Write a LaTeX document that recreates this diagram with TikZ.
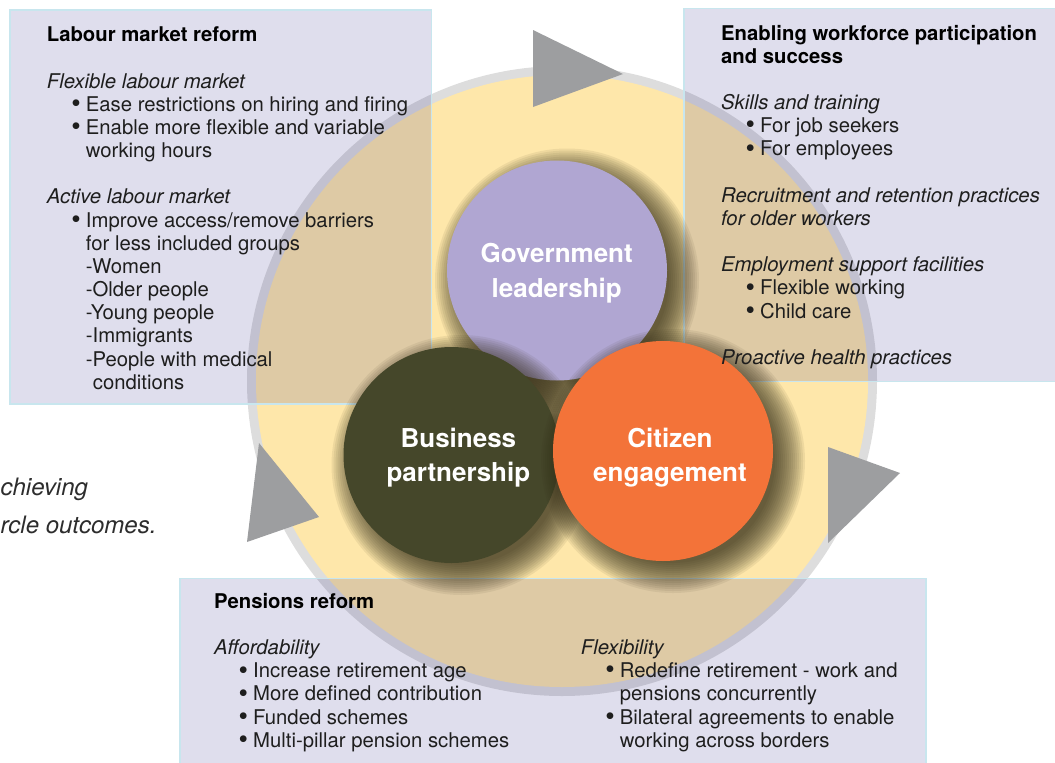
\documentclass[tikz,border=0pt]{standalone}
\usepackage{fontspec}
\setmainfont{TeX Gyre Heros}
\definecolor{ringgray}{RGB}{221,221,221}
\definecolor{sunfill}{RGB}{254,231,170}
\definecolor{pointergray}{RGB}{157,158,160}
\definecolor{panelink}{RGB}{65,60,146}
\definecolor{panelrule}{RGB}{200,230,238}
\definecolor{govcol}{RGB}{176,166,210}
\definecolor{bizcol}{RGB}{69,71,42}
\definecolor{citcol}{RGB}{243,115,57}
\definecolor{shadowcol}{RGB}{48,42,22}
\definecolor{bodytext}{RGB}{30,30,30}
\definecolor{asidetext}{RGB}{45,45,45}

% bulleted line and continuation line inside a panel
\newcommand{\bdot}{\smash{\raisebox{-1.2pt}{\fontsize{27}{0}\selectfont\textbullet}}}
\newcommand{\bitem}[1]{\hspace*{24.5pt}\makebox[14.5pt][l]{\bdot}#1}
\newcommand{\bcont}[1]{\hspace*{39pt}#1}
% soft drop shadow under a hub: centre x, centre y, radius
\newcommand{\hubshadow}[3]{%
  \foreach \k in {0,...,15}{%
    \pgfmathsetmacro{\rr}{#3+22-2*\k}%
    \fill[shadowcol, fill opacity=0.075] (#1+10,#2+10) circle (\rr pt);
  }}

\begin{document}
\begin{tikzpicture}[x=1pt,y=-1pt,
  panel/.style={fill=panelink, fill opacity=0.17, draw=panelrule, draw opacity=1, line width=1.2pt},
  pointer/.style={fill=pointergray},
  hub/.style={circle, inner sep=0pt, minimum size=#1},
  hublabel/.style={anchor=base, inner sep=0pt, text=white,
    font=\fontsize{26}{34.3}\selectfont\bfseries},
  paneltext/.style={anchor=base west, inner sep=0pt, text=bodytext,
    font=\fontsize{20.3}{23.17}\selectfont},
  aside/.style={anchor=base west, inner sep=0pt, text=asidetext,
    font=\fontsize{24}{30}\selectfont\itshape}
]
\useasboundingbox (0,0) rectangle (1055,763);

% cycle ring
\fill[ringgray] (562,381) circle (315pt);
\fill[sunfill] (562,381) circle (306pt);

% direction markers on the ring
\fill[pointer] (533,30) -- (623,74) -- (533,107) -- cycle;
\fill[pointer] (828,447) -- (900,473) -- (828,543) -- cycle;
\fill[pointer] (259,443) -- (319,517) -- (247,542) -- cycle;

% translucent panels
\path[panel] (10,10) rectangle (431.5,404);
\path[panel] (684,8.3) rectangle (1062,381.5);
\path[panel] (180,578.3) rectangle (926,770);

% hubs with their shadows
\hubshadow{557}{270.5}{110}
\node[hub=220pt, fill=govcol] (gov) at (557,270.5) {};
\hubshadow{451.5}{455}{108}
\node[hub=216pt, fill=bizcol] (biz) at (451.5,455) {};
\hubshadow{663}{451}{110}
\node[hub=220pt, fill=citcol] (cit) at (663,451) {};

\node[hublabel] (govlabel) at (556.7,262.7)
  {\begin{tabular}[t]{@{}c@{}}Government\\leadership\end{tabular}};
\node[hublabel] (bizlabel) at (458.4,447.3)
  {\begin{tabular}[t]{@{}c@{}}Business\\partnership\end{tabular}};
\node[hublabel] (citlabel) at (670,447.3)
  {\begin{tabular}[t]{@{}c@{}}Citizen\\engagement\end{tabular}};

% panel texts
\node[paneltext] (labour) at (46.7,41.7) {\begin{tabular}[t]{@{}l@{}}
\textcolor{black}{\textbf{Labour market reform}}\\
\\
\textit{Flexible labour market}\\
\bitem{Ease restrictions on hiring and firing}\\
\bitem{Enable more flexible and variable}\\
\bcont{working hours}\\
\\
\textit{Active labour market}\\
\bitem{Improve access/remove barriers}\\
\bcont{for less included groups}\\
\bcont{-Women}\\
\bcont{-Older people}\\
\bcont{-Young people}\\
\bcont{-Immigrants}\\
\bcont{-People with medical}\\
\hspace*{46pt}conditions
\end{tabular}};

\node[paneltext] (workforce) at (721,40) {\begin{tabular}[t]{@{}l@{}}
\textcolor{black}{\textbf{Enabling workforce participation}}\\
\textcolor{black}{\textbf{and success}}\\
\\
\textit{Skills and training}\\
\bitem{For job seekers}\\
\bitem{For employees}\\
\\
\textit{Recruitment and retention practices}\\
\textit{for older workers}\\
\\
\textit{Employment support facilities}\\
\bitem{Flexible working}\\
\bitem{Child care}\\
\\
\textit{Proactive health practices}
\end{tabular}};

\node[paneltext] (pensions) at (214,608.3) {\begin{tabular}[t]{@{}l@{}}
\textcolor{black}{\textbf{Pensions reform}}\\
\\
\textit{Affordability}\\
\bitem{Increase retirement age}\\
\bitem{More defined contribution}\\
\bitem{Funded schemes}\\
\bitem{Multi-pillar pension schemes}
\end{tabular}};

\node[paneltext] (flexibility) at (580.7,654.6) {\begin{tabular}[t]{@{}l@{}}
\textit{Flexibility}\\
\bitem{Redefine retirement - work and}\\
\bcont{pensions concurrently}\\
\bitem{Bilateral agreements to enable}\\
\bcont{working across borders}
\end{tabular}};

% side note running in from the left edge
\node[aside] (aside1) at (0.5,495) {chieving};
\node[aside] (aside2) at (0.5,533.3) {rcle outcomes.};
\end{tikzpicture}
\end{document}
